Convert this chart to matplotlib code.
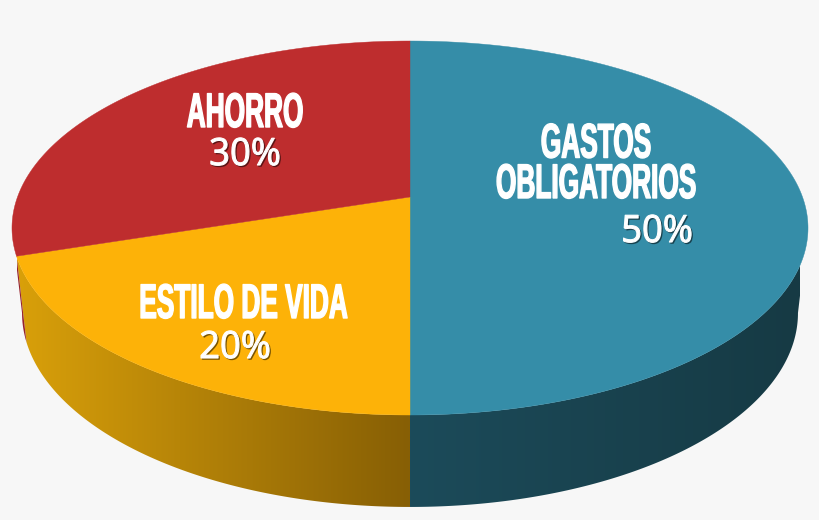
import numpy as np
import matplotlib
matplotlib.use('Agg')
import matplotlib.pyplot as plt
import matplotlib.patheffects as pe
from matplotlib.colors import LinearSegmentedColormap, to_rgba
from matplotlib.patches import Polygon
from matplotlib.transforms import Affine2D

# clockwise from the top of the pie
names = ['GASTOS\nOBLIGATORIOS', 'ESTILO DE VIDA', 'AHORRO']
shares = [50, 20, 30]
percent_labels = ['50%', '20%', '30%']

top_colors = ['#358DA8', '#FDB208', '#BE2D2E']
wall_colors = [('#1C4B5A', '#163A44'), ('#D9A00A', '#875F05'), ('#96222C', '#96222C')]
BG = '#F7F7F7'

# perspective disc: k is the tilt, the rest are pixels
CX = 410
K = 0.1658
TOP_FACE = dict(a=392.5, b=149.2, c=197.0)
BOTTOM_FACE = dict(a=382.6, b=142.1, c=280.8)


def project(theta, a, b, c):
    u, v = np.sin(theta), np.cos(theta)
    w = 1 + K * v
    return np.column_stack([CX + a * u / w, (c - b * v) / w])


class Squeeze(pe.AbstractPathEffect):
    # condensed lettering, the installed fonts are too wide for this
    def __init__(self, factor, x0, offset=(0, 0), color='white', stroke=0.0):
        super().__init__(offset)
        self.factor = factor
        self.x0 = x0
        self.color = color
        self.stroke = stroke

    def draw_path(self, renderer, gc, tpath, affine, rgbFace):
        squeeze = Affine2D().translate(-self.x0, 0).scale(self.factor, 1).translate(self.x0, 0)
        rgba = to_rgba(self.color)
        gc0 = renderer.new_gc()
        gc0.copy_properties(gc)
        gc0.set_alpha(rgba[3])
        gc0.set_foreground(rgba)
        gc0.set_linewidth(self.stroke)
        renderer.draw_path(gc0, tpath, affine + squeeze + Affine2D().translate(*self._offset), rgba)
        gc0.restore()


fig = plt.figure(figsize=(8.2, 5.2), dpi=100, facecolor=BG)
ax = fig.add_axes([0, 0, 1, 1])
ax.axis('off')

edges = np.radians(np.cumsum([0] + shares) / sum(shares) * 360)

# only the front of the rim shows, between the two widest points
side = np.arccos(-K)
front = (side, 2 * np.pi - side)

for i in range(len(shares)):
    theta = np.linspace(max(edges[i], front[0]), min(edges[i + 1], front[1]), 300)
    top_rim = project(theta, **TOP_FACE)
    bottom_rim = project(theta, **BOTTOM_FACE)

    wall = Polygon(np.vstack([top_rim, bottom_rim[::-1]]), closed=True, fc='none', ec='none')
    ax.add_patch(wall)
    cmap = LinearSegmentedColormap.from_list('wall', wall_colors[i])
    if i == 0:
        extent = [CX, 800, 520, 0]
    else:
        extent = [17, CX, 520, 0]
    ramp = np.linspace(0, 1, 256).reshape(1, -1)
    im = ax.imshow(ramp, cmap=cmap, extent=extent, aspect='auto', zorder=1)
    im.set_clip_path(wall)

for i in range(len(shares)):
    theta = np.linspace(edges[i], edges[i + 1], 300)
    rim = project(theta, **TOP_FACE)
    center = [[CX, TOP_FACE['c']]]
    ax.add_patch(Polygon(np.vstack([center, rim]), closed=True, fc=top_colors[i],
                         ec=top_colors[i], lw=0.3, zorder=2))

ax.set_xlim(0, 820)
ax.set_ylim(520, 0)

# text positions in pixels, y is the bottom of the text box for the names
name_pos = [(596, 208), (243.5, 328), (245, 137)]
percent_pos = [(657, 242), (235, 358), (245, 165)]

for i, name in enumerate(names):
    x, y = name_pos[i]
    xd = ax.transData.transform((x, y))[0]
    ax.text(x, y, name, ha='center', va='bottom', color='white', fontsize=35,
            family=['Liberation Sans', 'DejaVu Sans'], weight='bold', linespacing=0.87,
            zorder=3, path_effects=[Squeeze(0.54, xd, stroke=1.0)])
    x, y = percent_pos[i]
    xd = ax.transData.transform((x, y))[0]
    ax.text(x, y, percent_labels[i], ha='center', va='baseline', color='white', fontsize=27,
            family=['Open Sans', 'DejaVu Sans'], zorder=3,
            path_effects=[Squeeze(0.97, xd, offset=(1.3, -1.3), color=(0, 0, 0, 0.4), stroke=0.8),
                          Squeeze(0.97, xd, stroke=0.8)])

fig.savefig('out.png', dpi=100, facecolor=BG)
